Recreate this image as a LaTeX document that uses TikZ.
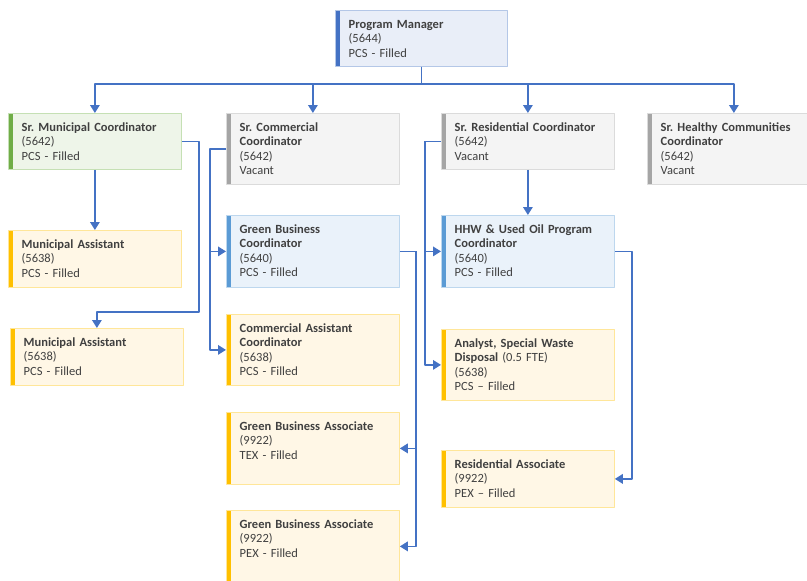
\documentclass[tikz,border=0pt]{standalone}
\usepackage{fontspec}
\setmainfont{Carlito}
\usetikzlibrary{arrows.meta}
\frenchspacing

\definecolor{linkblue}{HTML}{4472C4}
\definecolor{txtgray}{HTML}{404040}
% bar / fill / border colours per position type
\definecolor{barPM}{HTML}{4472C4}   \definecolor{fillPM}{HTML}{E9EEF8}   \definecolor{linePM}{HTML}{B4C7E7}
\definecolor{barGreen}{HTML}{70AD47}\definecolor{fillGreen}{HTML}{EEF5E9}\definecolor{lineGreen}{HTML}{C5E0B4}
\definecolor{barGray}{HTML}{A5A5A5} \definecolor{fillGray}{HTML}{F4F4F4} \definecolor{lineGray}{HTML}{DBDBDB}
\definecolor{barBlue}{HTML}{5B9BD5} \definecolor{fillBlue}{HTML}{EAF2FA} \definecolor{lineBlue}{HTML}{BDD7EE}
\definecolor{barYel}{HTML}{FFC000}  \definecolor{fillYel}{HTML}{FFF7E6}  \definecolor{lineYel}{HTML}{FFE699}

% \orgbox{style}{name}{x}{y}{height}{text}
\newcommand{\orgbox}[6]{%
  \node[#1, minimum height=#5] (#2) at (#3,#4) {};
  \node[txt] (#2-t) at ([xshift=13.5pt, yshift=-18pt]#2.north west) {#6};
}

\begin{document}
\begin{tikzpicture}[x=1pt, y=-1pt, line join=round,
  font=\fontsize{12.5}{14.6}\selectfont,
  box/.style n args={3}{draw=#3, fill=#2, line width=0.8pt, minimum width=173pt,
    inner sep=0pt, anchor=north west,
    path picture={\fill[#1] (path picture bounding box.north west)
      rectangle ([xshift=5pt]path picture bounding box.south west);}},
  pmbox/.style={box={barPM}{fillPM}{linePM}},
  greenbox/.style={box={barGreen}{fillGreen}{lineGreen}},
  graybox/.style={box={barGray}{fillGray}{lineGray}},
  bluebox/.style={box={barBlue}{fillBlue}{lineBlue}},
  yelbox/.style={box={barYel}{fillYel}{lineYel}},
  txt/.style={anchor=base west, inner sep=0pt, text width=158pt, align=left, text=txtgray},
  link/.style={draw=linkblue, line width=1.6pt, -{Triangle[length=8pt,width=9.5pt]}}]

\useasboundingbox (0,0) rectangle (807,581);

% top
\orgbox{pmbox, minimum width=172pt}{pm}{335}{10}{56}{\textbf{Program Manager}\\(5644)\\PCS - Filled}

% senior row
\orgbox{greenbox}{smc}{8}{113}{56}{\textbf{Sr. Municipal Coordinator}\\(5642)\\PCS - Filled}
\orgbox{graybox}{scc}{226}{113}{71}{\textbf{Sr. Commercial}\\\textbf{Coordinator}\\(5642)\\Vacant}
\orgbox{graybox}{src}{441}{113}{56}{\textbf{Sr. Residential Coordinator}\\(5642)\\Vacant}
\orgbox{graybox}{shc}{647}{113}{71}{\textbf{Sr. Healthy Communities}\\\textbf{Coordinator}\\(5642)\\Vacant}

% municipal
\orgbox{yelbox}{ma1}{8}{230}{57}{\textbf{Municipal Assistant}\\(5638)\\PCS - Filled}
\orgbox{yelbox}{ma2}{10}{328}{57}{\textbf{Municipal Assistant}\\(5638)\\PCS - Filled}

% commercial
\orgbox{bluebox}{gbc}{226}{215}{72}{\textbf{Green Business}\\\textbf{Coordinator}\\(5640)\\PCS - Filled}
\orgbox{yelbox}{cac}{226}{314}{71}{\textbf{Commercial Assistant}\\\textbf{Coordinator}\\(5638)\\PCS - Filled}
\orgbox{yelbox}{gba1}{226}{412}{72}{\textbf{Green Business Associate}\\(9922)\\TEX - Filled}
\orgbox{yelbox}{gba2}{226}{510}{72}{\textbf{Green Business Associate}\\(9922)\\PEX - Filled}

% residential
\orgbox{bluebox}{hhw}{441}{215}{72}{\textbf{HHW \& Used Oil Program}\\\textbf{Coordinator}\\(5640)\\PCS - Filled}
\orgbox{yelbox}{asw}{441}{329}{71}{\textbf{Analyst, Special Waste}\\\textbf{Disposal} (0.5 FTE)\\(5638)\\PCS -- Filled}
\orgbox{yelbox}{ra}{441}{450}{57}{\textbf{Residential Associate}\\(9922)\\PEX -- Filled}

% connectors
\foreach \n in {smc,scc,src,shc}
  \draw[link] (pm.south) -- ++(0,17) -| (\n.north);

\draw[link] (smc.south) -- (ma1.north);
\draw[link] (smc.east) -- ++(17,0) |- ([yshift=16pt]ma2.north) -- (ma2.north);

\draw[link] (scc.west) -- ++(-16,0) |- (cac.west);
\draw[link] ([xshift=-16pt]scc.west) |- (gbc.west);

\draw[link] (gbc.east) -- ++(16,0) |- (gba2.east);
\draw[link] ([xshift=16pt]gbc.east) |- (gba1.east);

\draw[link] (src.south) -- (hhw.north);
\draw[link] (src.west) -- ++(-16,0) |- (asw.west);
\draw[link] ([xshift=-16pt]src.west) |- (hhw.west);

\draw[link] (hhw.east) -- ++(17,0) |- (ra.east);

\end{tikzpicture}
\end{document}
